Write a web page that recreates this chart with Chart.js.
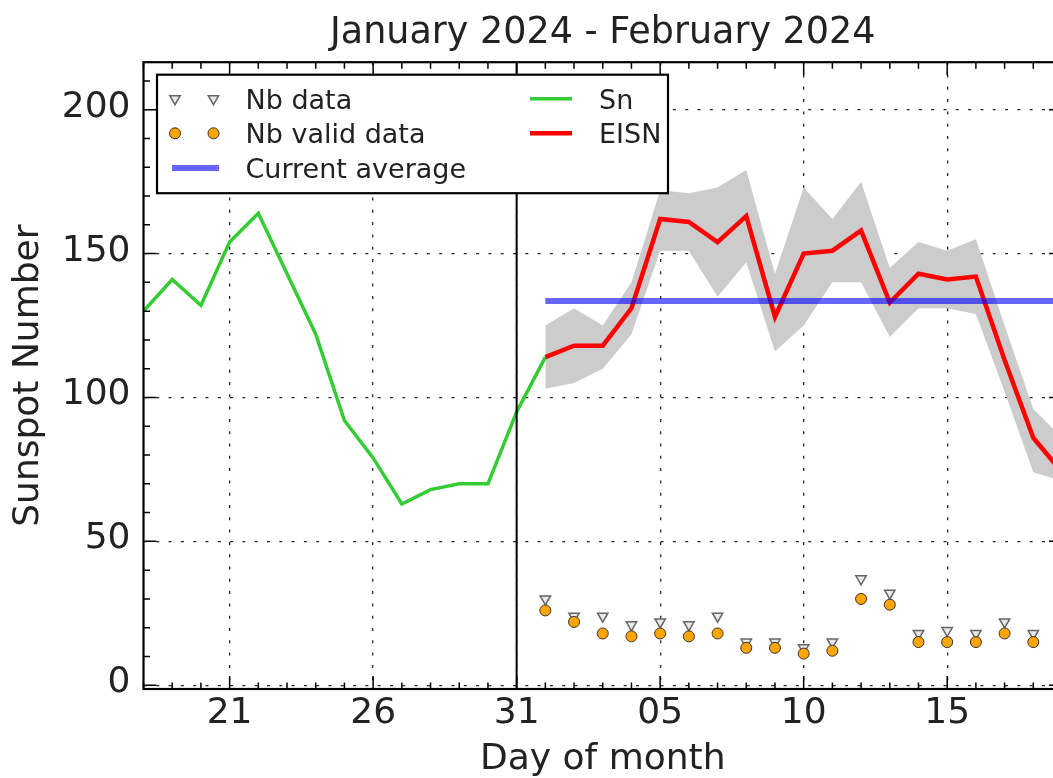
<!DOCTYPE html>
<html>
<head>
<meta charset="utf-8">
<title>Sunspot Number</title>
<script src="https://cdn.jsdelivr.net/npm/chart.js@4.4.1/dist/chart.umd.min.js"></script>
<style>
  html, body { margin: 0; padding: 0; background: #fff; overflow: hidden; }
  #wrap { width: 1080px; height: 778px; }
</style>
</head>
<body>
<div id="wrap"><canvas id="sunspots"></canvas></div>
<script>
// day numbers counted from 1 Jan 2024 (so 1 Feb = 32)
const snDays = [18, 19, 20, 21, 22, 23, 24, 25, 26, 27, 28, 29, 30, 31, 32];
const snValues = [130, 141, 132, 154, 164, 143, 122, 92, 79, 63, 68, 70, 70, 95, 114];

const eisnDays = [32, 33, 34, 35, 36, 37, 38, 39, 40, 41, 42, 43, 44, 45, 46, 47, 48, 49, 50];
const eisnValues = [114, 118, 118, 131, 162, 161, 154, 163, 128, 150, 151, 158, 133, 143, 141, 142, 113, 86, 74];
const eisnUpper = [125, 131, 125, 140, 172, 171, 173, 179, 143, 173, 162, 175, 145, 154, 151, 155, 125, 96, 86];
const eisnLower = [103, 105, 110, 122, 151, 151, 135, 147, 116, 125, 140, 140, 121, 131, 131, 129, 102, 74, 71];

const nbDays = [32, 33, 34, 35, 36, 37, 38, 39, 40, 41, 42, 43, 44, 45, 46, 47, 48, 49];
const nbData = [30, 24, 24, 21, 22, 21, 24, 15, 15, 13, 15, 37, 32, 18, 19, 18, 22, 18];
const nbValid = [26, 22, 18, 17, 18, 17, 18, 13, 13, 11, 12, 30, 28, 15, 15, 15, 18, 15];

const currentAverage = 133.5;
const monthEnd = 31;

const xTicks = [21, 26, 31, 36, 41, 46];
const yTicks = [0, 50, 100, 150, 200];

const pts = (days, vals) => days.map((d, i) => ({x: d, y: vals[i]}));
const dayLabel = v => v > monthEnd ? String(v - monthEnd).padStart(2, '0') : String(v);

Chart.defaults.font.family = "'DejaVu Sans', sans-serif";
Chart.defaults.color = '#222';

function drawLegend(chart) {
    const ctx = chart.ctx;
    const a = chart.chartArea;
    const ds = chart.data.datasets;
    const left = a.left + 13.5, top = a.top + 12.5;
    const w = 511, h = 118.5;
    ctx.save();
    ctx.fillStyle = '#fff';
    ctx.fillRect(left, top, w, h);
    ctx.strokeStyle = '#000';
    ctx.lineWidth = 2.2;
    ctx.strokeRect(left, top, w, h);

    const rowY = i => top + 24 + i * 34.6;
    ctx.font = "27px 'DejaVu Sans'";
    ctx.textBaseline = 'alphabetic';

    const marker = (d, x, y) => {
        ctx.fillStyle = d.backgroundColor;
        ctx.strokeStyle = d.borderColor;
        ctx.lineWidth = d.borderWidth;
        ctx.beginPath();
        if (d.pointStyle === 'triangle') {
            const r = d.pointRadius;
            ctx.moveTo(x - r * 0.866, y - r * 0.5);
            ctx.lineTo(x + r * 0.866, y - r * 0.5);
            ctx.lineTo(x, y + r);
            ctx.closePath();
        } else {
            ctx.arc(x, y, d.pointRadius, 0, Math.PI * 2);
        }
        ctx.fill();
        ctx.stroke();
    };
    const line = (d, x1, x2, y) => {
        ctx.strokeStyle = d.borderColor;
        ctx.lineWidth = d.borderWidth;
        ctx.beginPath();
        ctx.moveTo(x1, y);
        ctx.lineTo(x2, y);
        ctx.stroke();
    };
    const label = (text, x, y) => {
        ctx.fillStyle = '#222';
        ctx.fillText(text, x, y + 9.8);
    };

    const byLabel = name => ds.find(d => d.label === name);
    const col1 = ['Nb data', 'Nb valid data', 'Current average'];
    col1.forEach((name, i) => {
        const d = byLabel(name);
        const y = rowY(i);
        if (d.showLine === false) {
            marker(d, left + 18, y);
            marker(d, left + 56.5, y);
        } else {
            line(d, left + 15, left + 62, y);
        }
        label(name, left + 88.5, y);
    });
    const col2 = ['Sn', 'EISN'];
    col2.forEach((name, i) => {
        const d = byLabel(name);
        const y = rowY(i);
        line(d, left + 373, left + 415, y);
        label(name, left + 442, y);
    });
    ctx.restore();
}

const framePlugin = {
    id: 'frame',
    afterDatasetsDraw(chart) {
        const {ctx, chartArea: a, scales: {x}} = chart;
        const px = x.getPixelForValue(monthEnd);
        ctx.save();
        ctx.strokeStyle = '#000';
        ctx.lineWidth = 2;
        ctx.beginPath();
        ctx.moveTo(px, a.top);
        ctx.lineTo(px, a.bottom);
        ctx.stroke();
        ctx.restore();
    },
    afterDraw(chart) {
        const {ctx, chartArea: a, scales: {x, y}} = chart;
        ctx.save();
        ctx.strokeStyle = '#000';
        ctx.lineWidth = 1.5;
        ctx.beginPath();
        // minor ticks every day, major at labelled days, pointing inward
        for (let d = Math.ceil(x.min); d <= x.max; d++) {
            const px = x.getPixelForValue(d);
            const len = xTicks.includes(d) ? 13 : 6.5;
            ctx.moveTo(px, a.bottom); ctx.lineTo(px, a.bottom - len);
            ctx.moveTo(px, a.top); ctx.lineTo(px, a.top + len);
        }
        for (let v = 0; v <= y.max; v += 10) {
            const py = y.getPixelForValue(v);
            const len = yTicks.includes(v) ? 13 : 6.5;
            ctx.moveTo(a.left, py); ctx.lineTo(a.left + len, py);
            ctx.moveTo(a.right, py); ctx.lineTo(a.right - len, py);
        }
        ctx.stroke();
        ctx.lineWidth = 2.2;
        ctx.strokeRect(a.left, a.top, a.right - a.left, a.bottom - a.top);
        ctx.restore();
        drawLegend(chart);
    }
};

const gridStyle = {color: 'rgba(0,0,0,0.85)', lineWidth: 1.3, drawTicks: false};

new Chart(document.getElementById('sunspots'), {
    type: 'line',
    data: {
        datasets: [
            {
                label: 'Current average',
                data: pts([eisnDays[0], eisnDays[eisnDays.length - 1]], [currentAverage, currentAverage]),
                borderColor: 'rgba(0,0,255,0.6)',
                borderWidth: 6,
                pointRadius: 0
            },
            {
                label: 'EISN',
                data: pts(eisnDays, eisnValues),
                borderColor: '#ff0000',
                borderWidth: 4.5,
                pointRadius: 0
            },
            {
                label: 'Sn',
                data: pts(snDays, snValues),
                borderColor: '#33cc33',
                borderWidth: 3.5,
                pointRadius: 0
            },
            {
                label: 'Nb valid data',
                data: pts(nbDays, nbValid),
                showLine: false,
                pointStyle: 'circle',
                pointRadius: 5.5,
                backgroundColor: '#ffa500',
                borderColor: '#333333',
                borderWidth: 1
            },
            {
                label: 'Nb data',
                data: pts(nbDays, nbData),
                showLine: false,
                pointStyle: 'triangle',
                rotation: 180,
                pointRadius: 6,
                backgroundColor: '#e8e8e8',
                borderColor: '#666666',
                borderWidth: 1.5
            },
            {
                label: 'EISN upper',
                data: pts(eisnDays, eisnUpper),
                borderColor: 'rgba(0,0,0,0)',
                borderWidth: 0,
                pointRadius: 0,
                backgroundColor: '#cccccc',
                fill: '+1'
            },
            {
                label: 'EISN lower',
                data: pts(eisnDays, eisnLower),
                borderColor: 'rgba(0,0,0,0)',
                borderWidth: 0,
                pointRadius: 0,
                fill: false
            }
        ]
    },
    options: {
        responsive: true,
        maintainAspectRatio: false,
        animation: false,
        events: [],
        layout: {padding: {left: 0, right: 18, top: 0, bottom: 0}},
        plugins: {
            legend: {display: false},
            tooltip: {enabled: false},
            title: {
                display: true,
                text: 'January 2024 - February 2024',
                fullSize: false,
                color: '#222',
                font: {size: 36.5, weight: 'normal', lineHeight: 1.2},
                padding: {top: 11.9, bottom: 6.5}
            }
        },
        scales: {
            x: {
                type: 'linear',
                min: 18,
                max: 50,
                afterBuildTicks: s => { s.ticks = xTicks.map(v => ({value: v})); },
                afterFit: s => { s.height = 89; },
                grid: gridStyle,
                border: {display: false, dash: [3, 9.3]},
                ticks: {
                    font: {size: 36, lineHeight: 1},
                    color: '#222',
                    padding: 6.7,
                    maxRotation: 0,
                    autoSkip: false,
                    callback: dayLabel
                },
                title: {
                    display: true,
                    text: 'Day of month',
                    color: '#222',
                    font: {size: 36, lineHeight: 1},
                    padding: {top: 0, bottom: 0}
                }
            },
            y: {
                min: -1.3,
                max: 216.5,
                afterBuildTicks: s => { s.ticks = yTicks.map(v => ({value: v})); },
                afterFit: s => { s.width = 143.5; },
                grid: gridStyle,
                border: {display: false, dash: [3, 9.3]},
                ticks: {
                    font: {size: 36, lineHeight: 1},
                    color: '#222',
                    padding: 13,
                    labelOffset: -2.4
                },
                title: {
                    display: true,
                    text: 'Sunspot Number',
                    color: '#222',
                    font: {size: 36, lineHeight: 1},
                    padding: {top: 10.5, bottom: 0}
                }
            }
        }
    },
    plugins: [framePlugin]
});
</script>
</body>
</html>
